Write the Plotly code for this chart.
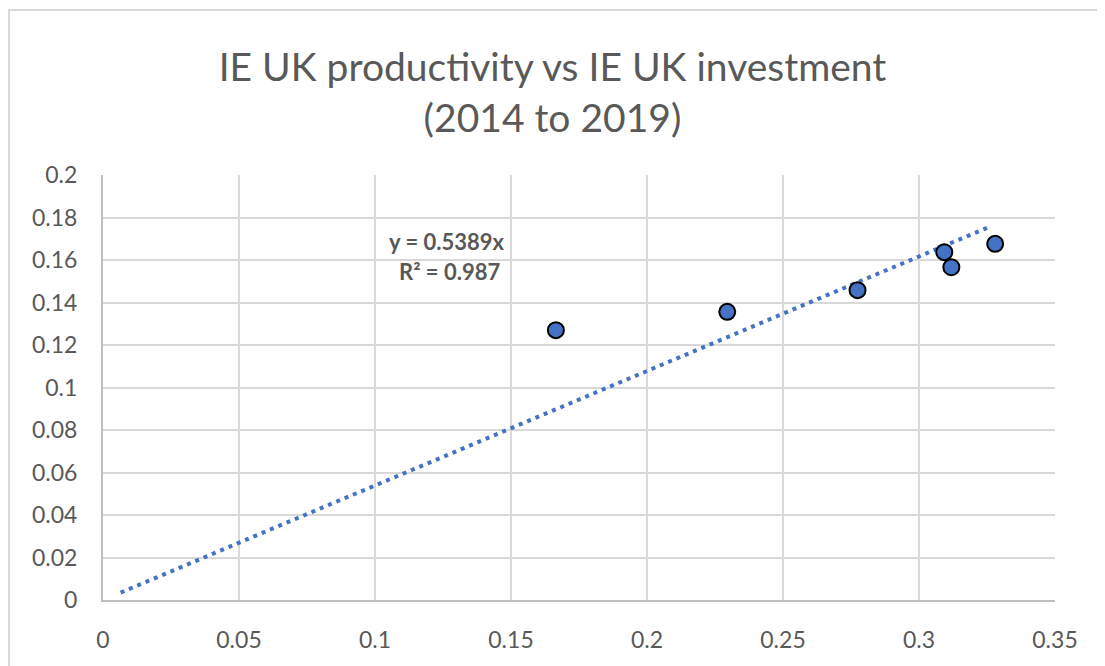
import plotly.graph_objects as go

# Data
investment = [0.1665, 0.2295, 0.2774, 0.3093, 0.3119, 0.3280]
productivity = [0.1270, 0.1356, 0.1458, 0.1637, 0.1566, 0.1676]
slope = 0.5389
r2 = 0.987
trend_x = [0.0065, 0.3255]
trend_y = [slope * v for v in trend_x]

title_text = "IE UK productivity vs IE UK investment<br>(2014 to 2019)"
x_ticks = [0, 0.05, 0.1, 0.15, 0.2, 0.25, 0.3, 0.35]
x_tick_labels = ["0", "0.05", "0.1", "0.15", "0.2", "0.25", "0.3", "0.35"]
y_ticks = [0, 0.02, 0.04, 0.06, 0.08, 0.1, 0.12, 0.14, 0.16, 0.18, 0.2]
y_tick_labels = ["0", "0.02", "0.04", "0.06", "0.08", "0.1", "0.12", "0.14", "0.16", "0.18", "0.2"]

BLUE = "#4472C4"
GREY_TXT = "#595959"
FONT = "Lato"

L, T, PW, PH = 95, 167, 952, 425
W, H = 1105, 666

fig = go.Figure()
fig.add_trace(go.Scatter(
    x=trend_x, y=trend_y, mode="lines",
    line=dict(color=BLUE, width=4, dash="4px,5px"),
    hoverinfo="skip", showlegend=False,
))
fig.add_trace(go.Scatter(
    x=investment, y=productivity, mode="markers",
    marker=dict(color=BLUE, size=16, line=dict(color="black", width=2)),
    showlegend=False,
))

fig.add_annotation(
    x=0.1265, y=0.1685, xref="x", yref="y",
    text=f"<b>y = {slope}x</b>", showarrow=False,
    font=dict(family=FONT, size=22, color=GREY_TXT),
)
fig.add_annotation(
    x=0.1275, y=0.1545, xref="x", yref="y",
    text=f"<b>R² = {r2}</b>", showarrow=False,
    font=dict(family=FONT, size=22, color=GREY_TXT),
)

# outer chart border
fig.add_shape(type="rect", xref="paper", yref="paper",
              x0=(1 - L) / PW, x1=(W + 20 - L) / PW,
              y0=-(H + 20 - T - PH) / PH, y1=(T + PH - 2) / PH,
              line=dict(color="#D9D9D9", width=2), layer="below")

fig.update_layout(
    width=W, height=H,
    margin=dict(l=L, r=W - L - PW, t=T, b=H - T - PH),
    paper_bgcolor="white", plot_bgcolor="white",
    font=dict(family=FONT, color=GREY_TXT),
    title=dict(text=title_text, x=(W / 2 - 8) / W, xanchor="center", xref="container",
               y=1 - 73 / H, yanchor="middle",
               font=dict(family=FONT, size=39, color=GREY_TXT)),
)
fig.update_xaxes(
    range=[0, 0.35], tickvals=x_ticks, ticktext=x_tick_labels,
    showgrid=True, gridcolor="#D9D9D9", gridwidth=2,
    showline=True, linecolor="#BFBFBF", linewidth=2,
    zeroline=False, ticks="", ticklabelstandoff=18,
    tickfont=dict(family=FONT, size=23, color=GREY_TXT),
)
fig.update_yaxes(
    range=[0, 0.2], tickvals=y_ticks, ticktext=y_tick_labels,
    showgrid=True, gridcolor="#D9D9D9", gridwidth=2,
    showline=True, linecolor="#BFBFBF", linewidth=2,
    zeroline=False, ticks="", ticklabelstandoff=19,
    tickfont=dict(family=FONT, size=23, color=GREY_TXT),
)

fig.write_html("out.html")
